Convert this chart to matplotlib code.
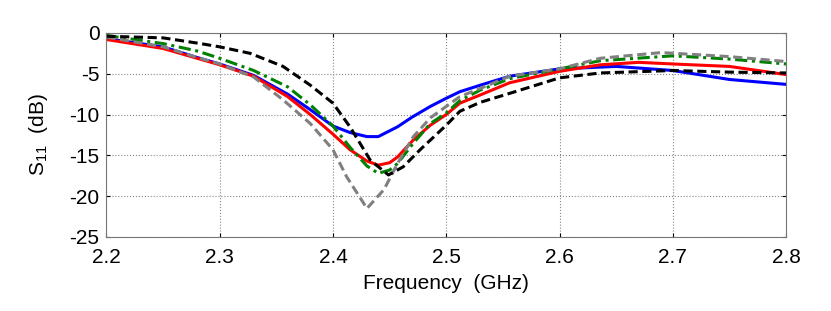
import matplotlib.pyplot as plt

plt.rcParams['font.family'] = ['Liberation Sans', 'DejaVu Sans']
plt.rcParams['mathtext.default'] = 'regular'

# frecuencias en GHz y S11 en dB
f_blue = [2.20, 2.25, 2.28, 2.30, 2.33, 2.36, 2.38, 2.40, 2.415, 2.43, 2.44, 2.457, 2.47, 2.486, 2.50, 2.512, 2.53, 2.556, 2.60, 2.65, 2.70, 2.75, 2.80]
s_blue = [-0.7, -1.7, -3.0, -3.8, -5.2, -7.5, -9.4, -11.4, -12.2, -12.7, -12.7, -11.5, -10.3, -9.0, -8.0, -7.2, -6.4, -5.3, -4.4, -4.1, -4.6, -5.7, -6.3]

f_red = [2.20, 2.25, 2.28, 2.30, 2.33, 2.36, 2.38, 2.40, 2.415, 2.43, 2.44, 2.45, 2.457, 2.471, 2.486, 2.50, 2.512, 2.53, 2.556, 2.60, 2.636, 2.67, 2.70, 2.75, 2.80]
s_red = [-0.8, -1.9, -3.1, -3.9, -5.3, -7.8, -10.0, -12.4, -14.3, -15.7, -16.2, -15.9, -15.2, -13.1, -11.3, -10.0, -8.6, -7.6, -6.1, -4.7, -3.9, -3.6, -3.8, -4.1, -5.1]

f_green = [2.20, 2.25, 2.28, 2.30, 2.33, 2.36, 2.38, 2.40, 2.415, 2.43, 2.44, 2.45, 2.457, 2.471, 2.486, 2.50, 2.512, 2.53, 2.556, 2.60, 2.636, 2.70, 2.75, 2.80]
s_green = [-0.3, -1.3, -2.2, -3.1, -4.6, -6.6, -8.8, -11.4, -14.0, -16.3, -17.2, -16.8, -16.0, -13.5, -11.1, -9.8, -8.3, -7.0, -5.6, -4.4, -3.4, -2.8, -3.2, -3.8]

f_gray = [2.20, 2.25, 2.28, 2.30, 2.33, 2.356, 2.38, 2.39, 2.40, 2.412, 2.43, 2.445, 2.457, 2.471, 2.486, 2.50, 2.512, 2.53, 2.556, 2.60, 2.636, 2.69, 2.75, 2.80]
s_gray = [-0.5, -1.7, -3.0, -3.8, -5.4, -8.2, -11.1, -12.7, -14.3, -17.6, -21.5, -19.2, -16.0, -12.7, -10.4, -9.0, -7.8, -6.8, -5.3, -4.4, -3.1, -2.4, -2.9, -3.5]

f_black = [2.20, 2.25, 2.283, 2.30, 2.327, 2.356, 2.38, 2.40, 2.415, 2.433, 2.449, 2.462, 2.477, 2.50, 2.512, 2.53, 2.556, 2.60, 2.636, 2.70, 2.75, 2.80]
s_black = [-0.4, -0.6, -1.3, -1.7, -2.5, -4.1, -6.4, -8.6, -11.5, -15.6, -17.4, -16.4, -14.3, -11.3, -9.6, -8.5, -7.4, -5.5, -4.9, -4.6, -4.8, -4.9]

x_ticks = [2.2, 2.3, 2.4, 2.5, 2.6, 2.7, 2.8]
y_ticks = [0, -5, -10, -15, -20, -25]

fig = plt.figure(figsize=(8.31, 3.11), dpi=100)
ax = fig.add_axes([0.128, 0.238, 0.818, 0.656])

ax.plot(f_blue, s_blue, color='blue', lw=2.2, ls='-')
ax.plot(f_red, s_red, color='red', lw=2.2, ls='-')
ax.plot(f_green, s_green, color='green', lw=2.2, ls=(0, (4, 1.5, 1, 1.5)))
ax.plot(f_gray, s_gray, color='gray', lw=2.2, ls=(0, (3, 1.5)))
ax.plot(f_black, s_black, color='black', lw=2.2, ls=(0, (3, 1.5)))

ax.set_xlim(2.2, 2.8)
ax.set_ylim(-25, 0)
ax.set_xticks(x_ticks)
ax.set_yticks(y_ticks)
ax.set_xticklabels([str(t) for t in x_ticks])
ax.set_yticklabels([str(t) for t in y_ticks])
ax.tick_params(direction='in', length=3, labelsize=15, top=True, right=True)
ax.tick_params(axis='x', pad=8)
ax.tick_params(axis='y', pad=5)
ax.grid(True, ls=':', color='#888888', lw=0.8)
for s in ax.spines.values():
    s.set_color('#777777')

ax.set_xlabel('Frequency  (GHz)', fontsize=15, labelpad=5)
ax.set_ylabel('S$_{11}$  (dB)', fontsize=15, labelpad=14)

fig.savefig('out.png', dpi=100)
